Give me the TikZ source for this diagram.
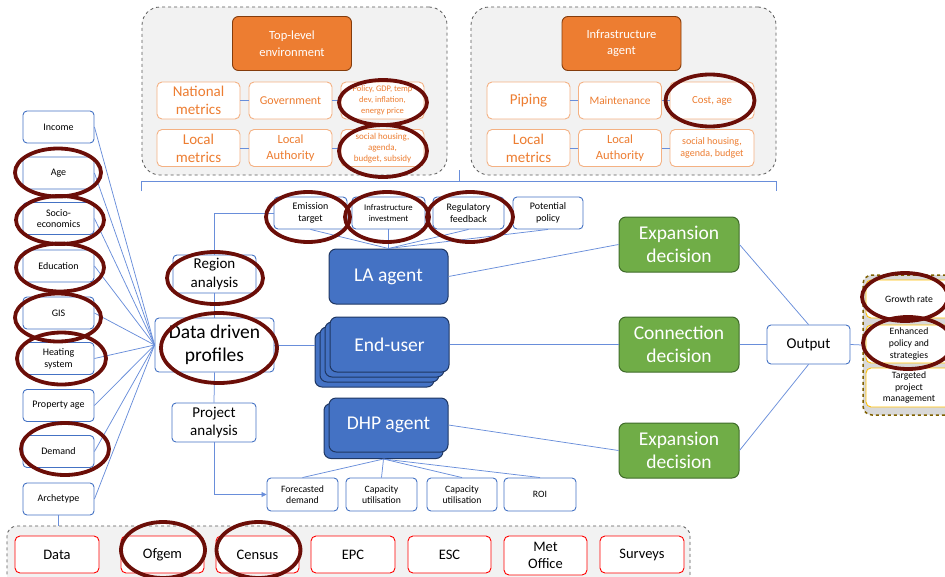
\documentclass[tikz,border=0pt]{standalone}
\usepackage{fontspec}
\setmainfont{Carlito}
\usetikzlibrary{arrows.meta}
\definecolor{cblue}{HTML}{4472C4}
\definecolor{cline}{RGB}{105,142,218}
\definecolor{corange}{HTML}{ED7D31}
\definecolor{clorange}{HTML}{F4B183}
\definecolor{cdkorange}{HTML}{843C0C}
\definecolor{cgreen}{HTML}{70AD47}
\definecolor{cdkgreen}{HTML}{3F6B2A}
\definecolor{cnavy}{HTML}{1F3763}
\definecolor{cring}{RGB}{107,14,8}
\definecolor{cgold}{HTML}{FFC000}
\definecolor{cbrown}{HTML}{7F6000}
\definecolor{cgrp}{HTML}{F2F2F2}
\definecolor{cgrpb}{HTML}{D9D9D9}
\definecolor{cdash}{HTML}{595959}
\newcommand\fsz[2]{\fontsize{#1}{#2}\selectfont}
\begin{document}
\begin{tikzpicture}[x=1pt,y=-1pt,
  base/.style={inner sep=0pt, align=center, anchor=center},
  grp/.style={base, draw=cdash, dashed, fill=cgrp, line width=0.8pt, rounded corners=18pt},
  bbox/.style={base, draw=cblue, fill=white, line width=0.9pt, rounded corners=4pt},
  lbox/.style={bbox, minimum width=71pt, minimum height=32pt, font=\fsz{10}{11.7}},
  sbox/.style={bbox, minimum height=32pt, font=\fsz{10}{11.7}},
  obox/.style={base, draw=clorange, fill=white, text=corange, line width=0.9pt, rounded corners=5pt, minimum width=83pt, minimum height=37pt},
  otitle/.style={base, draw=cdkorange, fill=corange, text=white, line width=0.9pt, rounded corners=6pt, minimum width=119pt, minimum height=54pt, font=\fsz{12.5}{16.5}},
  agent/.style={base, draw=cnavy, fill=cblue, text=white, line width=1pt, rounded corners=7pt, minimum width=119pt, minimum height=55pt, font=\fsz{19.5}{23}},
  gbox/.style={base, draw=cdkgreen, fill=cgreen, text=white, line width=1pt, rounded corners=7pt, minimum width=120pt, minimum height=55pt, font=\fsz{19.5}{23}},
  rbox/.style={base, draw=red, fill=white, line width=0.9pt, rounded corners=5pt, minimum width=83pt, minimum height=37pt, font=\fsz{14.5}{17}},
  ybox/.style={base, draw=cgold, fill=white, line width=0.9pt, rounded corners=5pt, minimum width=86pt, minimum height=38pt, font=\fsz{9.7}{11.7}},
  conn/.style={draw=cline, line width=0.75pt},
  ring/.style={draw=cring, line width=3.8pt}
]
\useasboundingbox (0,0) rectangle (945,576);

% ---------- groups ----------
\node[grp, minimum width=305pt, minimum height=168pt] (gTL) at (294.5,91) {};
\node[grp, minimum width=305pt, minimum height=168pt] (gTR) at (623.5,91) {};
\node[grp, minimum width=683pt, minimum height=64pt, rounded corners=10pt] (gBot) at (348.5,558) {};
\node[base, draw=cbrown, dashed, fill=cgrpb, line width=1.5pt, rounded corners=9pt, minimum width=92pt, minimum height=140pt] (gOut) at (909,345) {};

% ---------- top-left group ----------
\node[otitle] (tle) at (292,43.5) {Top-level\\environment};
\node[obox, font=\fsz{15}{18}] (nat) at (198.5,100.5) {National\\metrics};
\node[obox, font=\fsz{12}{14}] (gov) at (290.5,100.5) {Government};
\node[obox, font=\fsz{8.5}{11}] (pol) at (382.5,100.5) {Policy, GDP, temp\\dev, inflation,\\energy price};
\node[obox, font=\fsz{15}{18}] (locm) at (198.5,148) {Local\\metrics};
\node[obox, font=\fsz{12.5}{16}] (loca) at (290.5,148) {Local\\Authority};
\node[obox, font=\fsz{9}{11}] (soc) at (382.5,148) {social housing,\\agenda,\\budget, subsidy};
\draw[conn] (nat) -- (gov); \draw[conn] (gov) -- (pol);
\draw[conn] (locm) -- (loca); \draw[conn] (loca) -- (soc);

% ---------- top-right group ----------
\node[otitle] (infa) at (621.5,43.5) {Infrastructure\\agent};
\node[obox, font=\fsz{15}{18}] (pip) at (528.5,100.5) {Piping};
\node[obox, font=\fsz{11.4}{14}] (mnt) at (620,100.5) {Maintenance};
\node[obox, font=\fsz{10.8}{13}, minimum width=84pt] (cost) at (712,100.5) {Cost, age};
\node[obox, font=\fsz{15}{18}] (locm2) at (528.5,148) {Local\\metrics};
\node[obox, font=\fsz{12.5}{16}] (loca2) at (620,148) {Local\\Authority};
\node[obox, font=\fsz{10}{12}, minimum width=84pt] (soc2) at (712,148) {social housing,\\agenda, budget};
\draw[conn] (pip) -- (mnt); \draw[conn] (mnt) -- (cost);
\draw[conn] (locm2) -- (loca2); \draw[conn] (loca2) -- (soc2);

% ---------- brace ----------
\draw[conn, line width=1pt] (141,191) -- (141,181.5) -- (776,181.5) -- (776,191);
\draw[conn, line width=1pt] (459,181.5) -- (459,170);

% ---------- left column ----------
\node[lbox] (income) at (58.5,127) {Income};
\node[lbox] (age) at (58.5,173) {Age};
\node[lbox] (socio) at (58.5,218.5) {Socio-\\economics};
\node[lbox] (edu) at (58.5,266) {Education};
\node[lbox] (gis) at (58.5,313) {GIS};
\node[lbox] (heat) at (58.5,358.5) {Heating\\system};
\node[lbox] (prop) at (58.5,405.5) {Property age};
\node[lbox] (dem) at (58.5,451.5) {Demand};
\node[lbox] (arch) at (58.5,499) {Archetype};

% ---------- centre column ----------
\node[bbox, minimum width=83pt, minimum height=38pt, font=\fsz{15}{18.5}] (reg) at (214.5,274) {Region\\analysis};
\node[bbox, minimum width=119pt, minimum height=54pt, font=\fsz{19.5}{23}] (ddp) at (214.5,345) {Data driven\\profiles};
\node[bbox, minimum width=84pt, minimum height=39pt, font=\fsz{15}{18.5}] (proj) at (214,422.5) {Project\\analysis};

\foreach \s in {income,age,socio,edu,gis,heat,prop,dem,arch}
  \draw[conn] (\s.east) -- (ddp.west);

\node[sbox, minimum width=73pt] (emi) at (310.5,213) {Emission\\target};
\node[sbox, minimum width=73pt, font=\fsz{8.7}{11.5}] (inf) at (388.5,213) {Infrastructure\\investment};
\node[sbox, minimum width=71pt] (regf) at (468.5,213) {Regulatory\\feedback};
\node[sbox, minimum width=70pt] (pot) at (548,213) {Potential\\policy};

\node[agent] (la) at (388.5,276.5) {LA agent};
\node[agent] (eu3) at (374.5,359.5) {};
\node[agent] (eu2) at (379.5,354.5) {};
\node[agent] (eu1) at (384.5,349.5) {};
\node[agent] (eu) at (389.5,344.5) {End-user};
\node[agent] (dhpb) at (383.5,431) {};
\node[agent, minimum height=54pt] (dhp) at (388.5,425) {DHP agent};

\node[sbox, minimum width=71pt, minimum height=33pt, font=\fsz{9.7}{11.5}] (fd) at (302.5,494.5) {Forecasted\\demand};
\node[sbox, minimum width=71pt, minimum height=33pt, font=\fsz{9.7}{11.5}] (cu1) at (381.5,494.5) {Capacity\\utilisation};
\node[sbox, minimum width=70pt, minimum height=33pt, font=\fsz{9.7}{11.5}] (cu2) at (462,494.5) {Capacity\\utilisation};
\node[sbox, minimum width=72pt, minimum height=33pt, font=\fsz{9.7}{11.5}] (roi) at (540,494.5) {ROI};

\draw[conn] (reg.north) |- (emi.west);
\draw[conn] (reg.south) -- (ddp.north);
\draw[conn] (ddp.south) -- (proj.north);
\draw[conn, -{Triangle[length=5pt,width=5pt]}] (proj.south) |- (fd.west);
\draw[conn] (ddp.east) -- (ddp.east -| eu3.west);
\foreach \s in {emi,inf,regf,pot} \draw[conn] (\s.south) -- (la.north);
\foreach \s in {fd,cu1,cu2,roi} \draw[conn] (dhpb.south) -- (\s.north);

% ---------- decisions ----------
\node[gbox] (ex1) at (679,244.5) {Expansion\\decision};
\node[gbox] (con) at (679,344.5) {Connection\\decision};
\node[gbox] (ex2) at (679,450.5) {Expansion\\decision};
\node[bbox, minimum width=83pt, minimum height=39pt, font=\fsz{15}{18}] (out) at (808.5,344.5) {Output};
\draw[conn] (la.east) -- (ex1.west);
\draw[conn] (eu.east) -- (con.west);
\draw[conn] (dhp.east) -- (ex2.west);
\draw[conn] (ex1.east) -- (out.north);
\draw[conn] (con.east) -- (out.west);
\draw[conn] (ex2.east) -- (out.south);
\draw[conn] (out.east) -- (gOut.west);

% ---------- right output group ----------
\node[ybox] (gr) at (909,299) {Growth rate};
\node[ybox] (enh) at (909,344) {Enhanced\\policy and\\strategies};
\node[ybox, minimum height=39pt] (tgt) at (909,387.5) {Targeted\\project\\management};

% ---------- data sources ----------
\node[rbox, minimum width=84pt] (data) at (57,554.5) {Data};
\node[rbox] (ofgem) at (162.5,554.5) {Ofgem};
\node[rbox] (census) at (257.5,554.5) {Census};
\node[rbox, minimum width=84pt] (epc) at (353,554.5) {EPC};
\node[rbox] (esc) at (449.5,554.5) {ESC};
\node[rbox, minimum height=39pt] (met) at (545.5,555.5) {Met\\Office};
\node[rbox, minimum width=84pt] (surv) at (642,554.5) {Surveys};
\draw[conn] (arch.south) -- (arch.south |- gBot.north);

% ---------- highlight rings ----------
\draw[ring] (383,102.5) ellipse [x radius=44pt, y radius=22.5pt];
\draw[ring] (383,151) ellipse [x radius=44pt, y radius=26pt];
\draw[ring] (710,100.5) ellipse [x radius=44.5pt, y radius=26pt];
\draw[ring] (58,172.5) ellipse [x radius=43pt, y radius=24pt];
\draw[ring] (60,220) ellipse [x radius=44pt, y radius=24pt];
\draw[ring] (60,267.5) ellipse [x radius=44pt, y radius=24pt];
\draw[ring] (58,317.5) ellipse [x radius=43pt, y radius=24pt];
\draw[ring] (61.5,358.5) ellipse [x radius=44.5pt, y radius=26pt];
\draw[ring] (65,449) ellipse [x radius=44pt, y radius=26pt];
\draw[ring] (215,278) ellipse [x radius=48pt, y radius=26pt];
\draw[ring] (219,348) ellipse [x radius=58pt, y radius=35pt];
\draw[ring] (308,217) ellipse [x radius=42pt, y radius=25pt];
\draw[ring] (387,217) ellipse [x radius=42pt, y radius=25pt];
\draw[ring] (470,217) ellipse [x radius=43pt, y radius=25pt];
\draw[ring] (905,297) ellipse [x radius=43pt, y radius=24pt];
\draw[ring] (908,343) ellipse [x radius=45pt, y radius=26pt];
\draw[ring] (163,550) ellipse [x radius=42pt, y radius=28pt];
\draw[ring] (258.5,550) ellipse [x radius=42pt, y radius=28pt];
\end{tikzpicture}
\end{document}
